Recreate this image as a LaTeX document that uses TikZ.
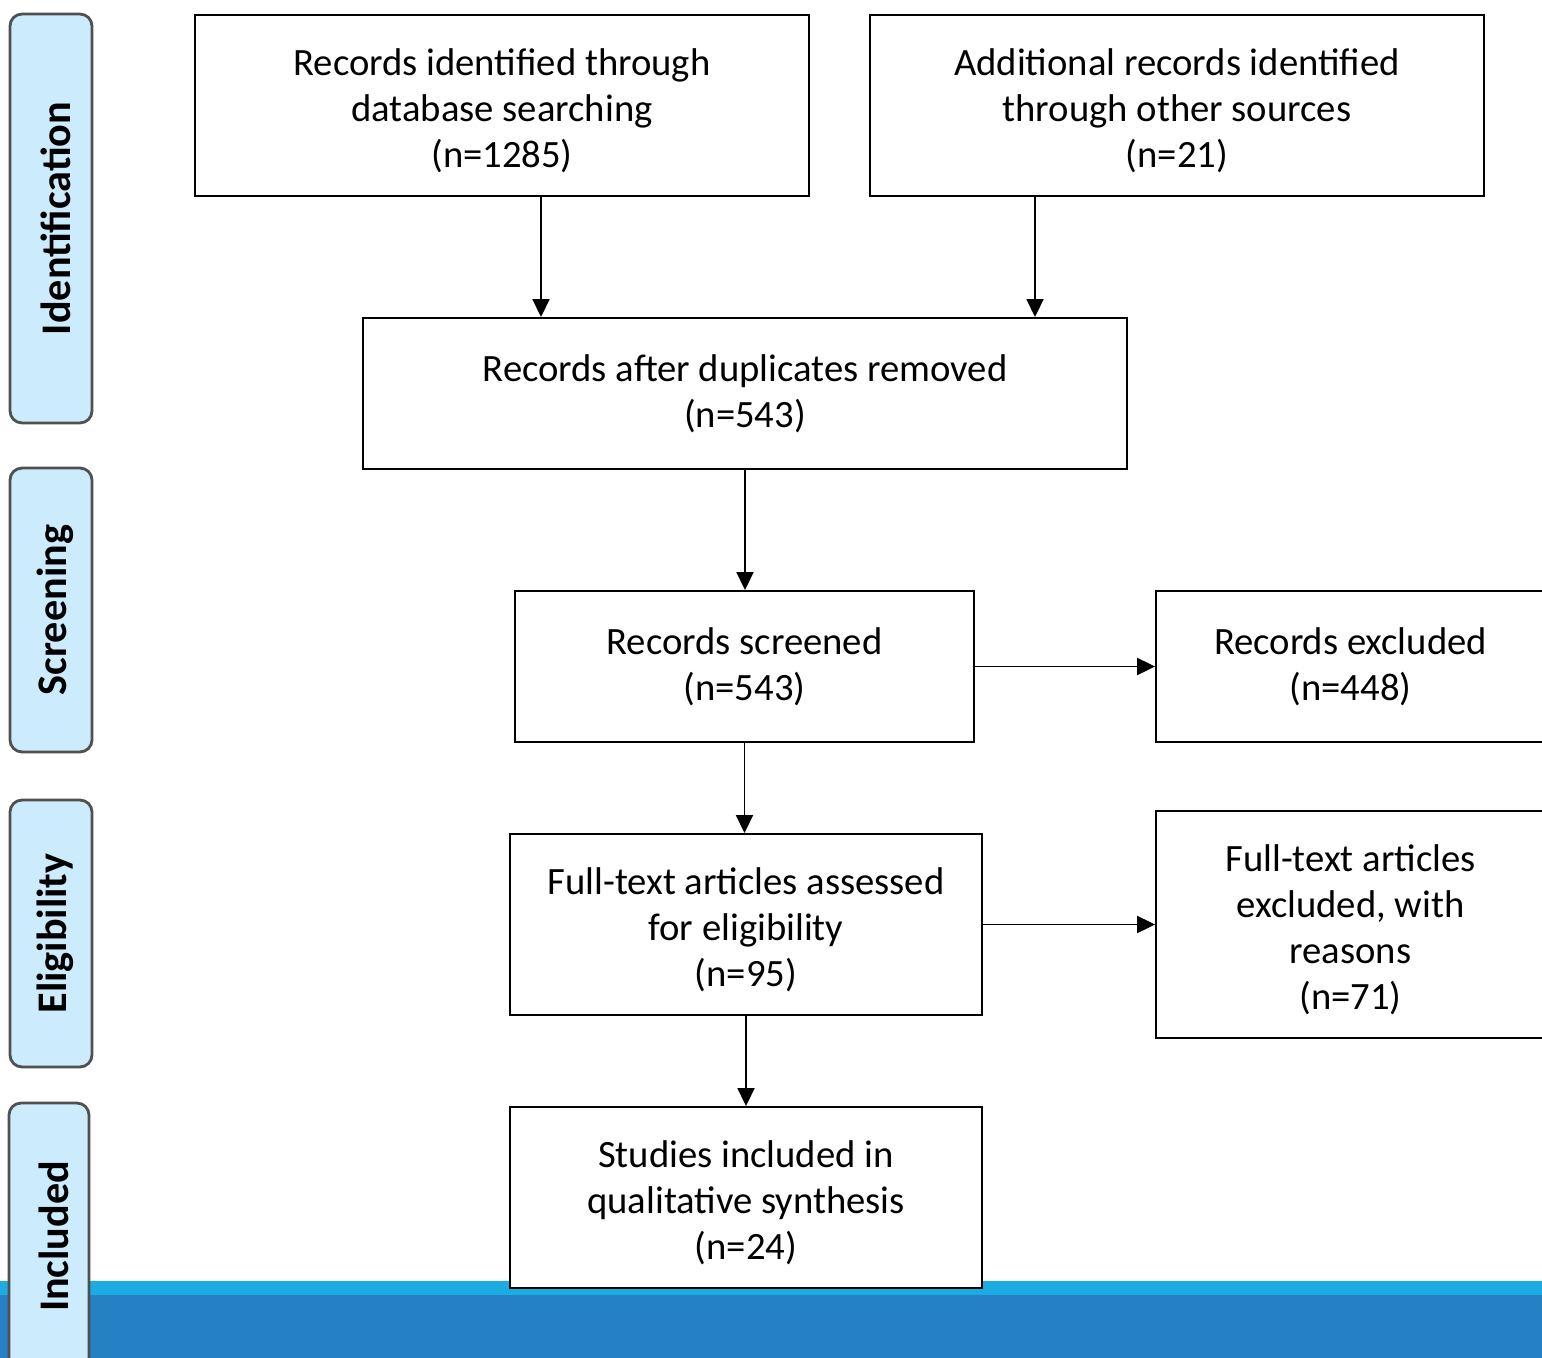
\documentclass[tikz,border=0pt]{standalone}
\usepackage{fontspec}
\setmainfont{Carlito}
\usetikzlibrary{arrows.meta}
\definecolor{sidefill}{HTML}{CCEBFC}
\definecolor{sideline}{HTML}{505050}
\definecolor{barlight}{HTML}{1DACE2}
\definecolor{bardark}{HTML}{2581C4}
\newcommand\mytopstrut{\rule{0pt}{21pt}}
\begin{document}
\begin{tikzpicture}[x=0.02cm,y=-0.02cm,
 box/.style={draw,line width=1.1pt,fill=white,align=center,inner sep=0pt,font=\fontsize{22}{26.2}\selectfont},
 side/.style={draw=sideline,line width=1.6pt,fill=sidefill,rounded corners=0.24cm,rotate=90,font=\fontsize{24}{28}\selectfont\bfseries,inner sep=0pt,execute at begin node={\rule{0pt}{22pt}}},
 arr/.style={line width=1.1pt,-{Triangle[length=0.36cm,width=0.34cm]}}]
\useasboundingbox (0,0) rectangle (1542,1358);
\clip (0,0) rectangle (1542,1358);
\fill[barlight] (0,1281) rectangle (1542,1295);
\fill[bardark] (0,1295) rectangle (1542,1358);
% side labels
\node[side,minimum width=8.18cm,minimum height=1.64cm] (s1) at (51,218.5) {Identification};
\node[side,minimum width=5.68cm,minimum height=1.64cm] (s2) at (51,610) {Screening};
\node[side,minimum width=5.34cm,minimum height=1.64cm] (s3) at (51,933.5) {Eligibility};
\node[side,minimum width=5.34cm,minimum height=1.6cm] (s4) at (49,1236.5) {Included};
% boxes
\node[box,minimum width=12.28cm,minimum height=3.62cm] (A) at (502,105.5) {\mytopstrut Records identified through\\database searching\\(n=1285)};
\node[box,minimum width=12.28cm,minimum height=3.62cm] (B) at (1177,105.5) {\mytopstrut Additional records identified\\through other sources\\(n=21)};
\node[box,minimum width=15.28cm,minimum height=3.02cm] (C) at (745,393.5) {Records after duplicates removed\\(n=543)};
\node[box,minimum width=9.18cm,minimum height=3.02cm] (D) at (744.5,666.5) {Records screened\\(n=543)};
\node[box,minimum width=7.78cm,minimum height=3.02cm] (E) at (1350.5,666.5) {Records excluded\\(n=448)};
\node[box,minimum width=9.44cm,minimum height=3.62cm] (F) at (746,924.5) {\mytopstrut Full-text articles assessed\\for eligibility\\(n=95)};
\node[box,minimum width=7.78cm,minimum height=4.54cm] (G) at (1350.5,924.5) {\mytopstrut Full-text articles\\excluded, with\\reasons\\(n=71)};
\node[box,minimum width=9.44cm,minimum height=3.62cm] (H) at (746,1197.5) {\mytopstrut Studies included in\\qualitative synthesis\\(n=24)};
% connectors
\coordinate (xa) at (541,0);
\coordinate (xb) at (1035,0);
\draw[arr] (A.south -| xa) -- (C.north -| xa);
\draw[arr] (B.south -| xb) -- (C.north -| xb);
\draw[arr] (C.south) -- (C.south |- D.north);
\draw[arr] (D.south) -- (D.south |- F.north);
\draw[arr] (F.south) -- (H.north);
\draw[arr] (D.east) -- (D.east -| E.west);
\draw[arr] (F.east) -- (F.east -| G.west);
\end{tikzpicture}
\end{document}
